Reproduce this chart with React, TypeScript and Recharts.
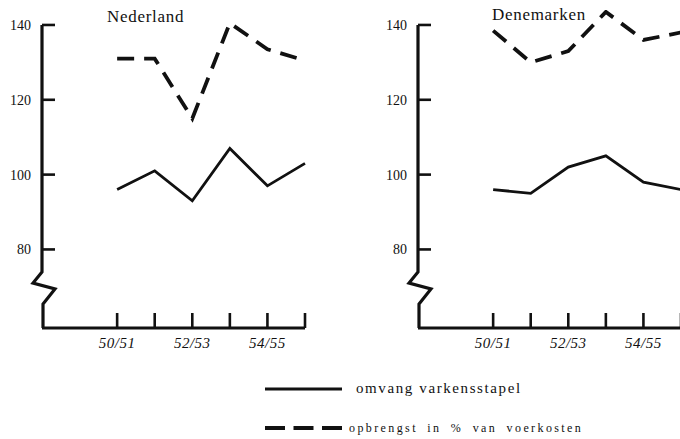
import { LineChart, Line, XAxis, YAxis, ReferenceLine } from 'recharts';

// seizoenen op de x-as (index 0 valt samen met de y-as)
const seasons = ['48/49', '49/50', '50/51', '51/52', '52/53', '53/54', '54/55', '55/56'];
const shownSeasons = ['50/51', '51/52', '52/53', '53/54', '54/55', '55/56'];
const labelledSeasons = ['50/51', '52/53', '54/55'];
const yTicks = [80, 100, 120, 140];

const nlVarkensstapel = [96, 101, 93, 107, 97, 103];
const nlOpbrengst = [131, 131, 115, 140.5, 133.5, 130.5];
const dkVarkensstapel = [96, 95, 102, 105, 98, 96];
const dkOpbrengst = [138.5, 130, 133, 143.5, 136, 138];

const seriesNames = ['omvang varkensstapel', 'opbrengst in % van voerkosten'];

const INK = '#111';
const FONT = '"Liberation Serif", "DejaVu Serif", serif';

const buildData = (varkens: number[], opbrengst: number[]) =>
  shownSeasons.map((s, i) => ({
    x: seasons.indexOf(s),
    varkens: varkens[i],
    opbrengst: opbrengst[i],
  }));

const XTick = (props: any) => {
  const { x, y, payload } = props;
  const label = seasons[payload.value];
  return (
    <g>
      <line x1={x} y1={y} x2={x} y2={y - 15} stroke={INK} strokeWidth={2.6} />
      {labelledSeasons.includes(label) && (
        <text
          x={x}
          y={y + 20}
          textAnchor="middle"
          fontSize={15}
          letterSpacing={0.5}
          fontStyle="italic"
          fontFamily={FONT}
          fill={INK}
        >
          {label}
        </text>
      )}
    </g>
  );
};

const YTick = (props: any) => {
  const { x, y, payload } = props;
  return (
    <g>
      <line x1={x} y1={y} x2={x + 13} y2={y} stroke={INK} strokeWidth={2.6} />
      <text x={x - 11} y={y} dy="0.35em" textAnchor="end" fontSize={14} fontFamily={FONT} fill={INK}>
        {payload.value}
      </text>
    </g>
  );
};

// y-as met onderbreking (zigzag) vlak boven de x-as
const BrokenAxis = (props: any) => {
  const { x1, y1, y2 } = props;
  const pts = [
    [x1, y1],
    [x1, y2 - 56],
    [x1 - 9, y2 - 45],
    [x1 + 13, y2 - 39],
    [x1 + 1, y2 - 24],
    [x1 + 1, y2],
  ]
    .map((p) => p.join(','))
    .join(' ');
  return <polyline points={pts} fill="none" stroke={INK} strokeWidth={3.2} strokeLinejoin="miter" />;
};

function Panel({ data }: { data: Array<{ x: number; varkens: number; opbrengst: number }> }) {
  return (
    <LineChart width={340} height={360} data={data} margin={{ top: 10, right: 35, left: 0, bottom: 2 }}>
      <XAxis
        type="number"
        dataKey="x"
        domain={[0, 7]}
        ticks={shownSeasons.map((s) => seasons.indexOf(s))}
        interval={0}
        tick={<XTick />}
        tickLine={false}
        tickSize={0}
        tickMargin={0}
        height={30}
        axisLine={{ stroke: INK, strokeWidth: 3.2 }}
      />
      <YAxis
        type="number"
        domain={[59, 144]}
        ticks={yTicks}
        interval={0}
        width={42}
        tick={<YTick />}
        tickLine={false}
        tickSize={0}
        tickMargin={0}
        axisLine={false}
        allowDataOverflow
      />
      <ReferenceLine
        segment={[
          { x: 0, y: 140 },
          { x: 0, y: 59 },
        ]}
        shape={<BrokenAxis />}
      />
      <Line
        dataKey="varkens"
        name={seriesNames[0]}
        type="linear"
        stroke={INK}
        strokeWidth={2.8}
        dot={false}
        isAnimationActive={false}
      />
      <Line
        dataKey="opbrengst"
        name={seriesNames[1]}
        type="linear"
        stroke={INK}
        strokeWidth={3.8}
        strokeDasharray="17 10"
        dot={false}
        isAnimationActive={false}
      />
    </LineChart>
  );
}

export default function App() {
  return (
    <div
      style={{
        position: 'absolute',
        left: 0,
        top: 0,
        width: 680,
        height: 439,
        overflow: 'hidden',
        background: '#fff',
        fontFamily: FONT,
        color: INK,
      }}
    >
      <div style={{ position: 'absolute', left: 0, top: 0 }}>
        <Panel data={buildData(nlVarkensstapel, nlOpbrengst)} />
      </div>
      <div style={{ position: 'absolute', left: 376, top: 0 }}>
        <Panel data={buildData(dkVarkensstapel, dkOpbrengst)} />
      </div>

      <div style={{ position: 'absolute', left: 107, top: 7, fontSize: 17, letterSpacing: 0.7, lineHeight: '20px' }}>
        Nederland
      </div>
      <div style={{ position: 'absolute', left: 492, top: 5, fontSize: 17, letterSpacing: 0.7, lineHeight: '20px' }}>
        Denemarken
      </div>

      <svg style={{ position: 'absolute', left: 263, top: 378 }} width={82} height={60}>
        <line x1={2} y1={11} x2={79} y2={11} stroke={INK} strokeWidth={2.8} />
        <line x1={2} y1={50} x2={79} y2={50} stroke={INK} strokeWidth={4} strokeDasharray="20 8.5" />
      </svg>
      <div style={{ position: 'absolute', left: 356, top: 379, fontSize: 15, letterSpacing: 1.6, lineHeight: '18px' }}>
        {seriesNames[0]}
      </div>
      <div
        style={{
          position: 'absolute',
          left: 349,
          top: 420,
          fontSize: 12,
          letterSpacing: 2.4,
          wordSpacing: 4,
          lineHeight: '16px',
        }}
      >
        {seriesNames[1]}
      </div>
    </div>
  );
}
